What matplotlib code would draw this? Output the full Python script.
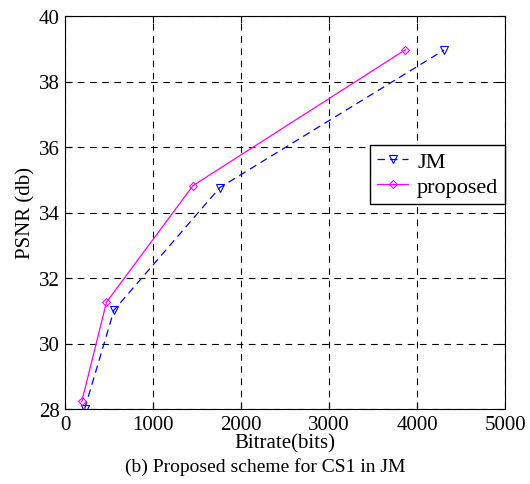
import matplotlib.pyplot as plt

plt.rcParams['font.family'] = ['Liberation Serif', 'DejaVu Serif']

# data
jm_rate = [224, 557, 1759, 4307]
jm_psnr = [28.01, 31.02, 34.76, 38.96]
prop_rate = [191, 471, 1454, 3868]
prop_psnr = [28.23, 31.26, 34.82, 38.97]

fig = plt.figure(figsize=(5.3, 4.85), dpi=100)
ax = fig.add_axes([65 / 530, 1 - 410 / 485, 440 / 530, 393 / 485])

ax.plot(jm_rate, jm_psnr, color='blue', linestyle=(0, (6, 4)), linewidth=0.9,
        marker='v', markersize=6, markerfacecolor='none', markeredgecolor='blue',
        markeredgewidth=0.8, label='JM')
ax.plot(prop_rate, prop_psnr, color='magenta', linestyle='-', linewidth=0.9,
        marker='D', markersize=4.5, markerfacecolor='none', markeredgecolor='magenta',
        markeredgewidth=0.8, label='proposed')

ax.set_xlim(0, 5000)
ax.set_ylim(28, 40)
ax.set_xticks([0, 1000, 2000, 3000, 4000, 5000])
ax.set_yticks([28, 30, 32, 34, 36, 38, 40])
ax.grid(True, color='black', linestyle=(0, (6, 5)), linewidth=0.8)
ax.tick_params(direction='in', top=True, right=True, labelsize=15, length=5, pad=4)
for s in ax.spines.values():
    s.set_linewidth(0.8)

ax.set_xlabel('Bitrate(bits)', fontsize=15, labelpad=0)
ax.set_ylabel('PSNR (db)', fontsize=15, labelpad=2)

leg = ax.legend(loc='upper right', bbox_to_anchor=(1.0, 0.672), borderaxespad=0,
                fontsize=16, fancybox=False, framealpha=1, edgecolor='black',
                handlelength=1.4, handletextpad=0.4, borderpad=0.3, labelspacing=0.2)
leg.get_frame().set_linewidth(1.0)

fig.text(0.5, 1 - 467 / 485, '(b) Proposed scheme for CS1 in JM', ha='center',
         va='center', fontsize=14)

fig.savefig('out.png', dpi=100)
